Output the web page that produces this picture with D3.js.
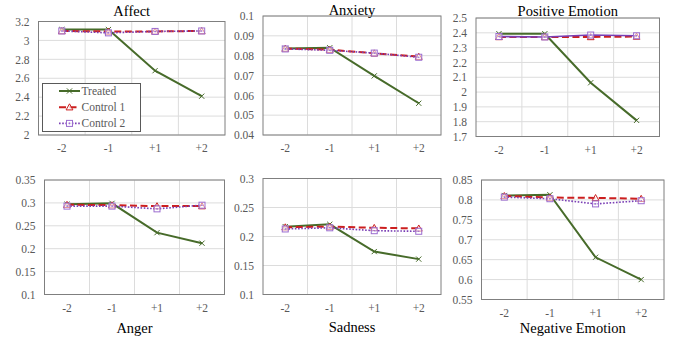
<!DOCTYPE html>
<html>
<head>
<meta charset="utf-8">
<script src="https://cdn.jsdelivr.net/npm/d3@7"></script>
<style>
  html, body { margin: 0; padding: 0; background: #fff; }
  svg { display: block; }
  svg text { font-family: "Liberation Serif", "Times New Roman", serif; }
</style>
</head>
<body>
<div id="chart"></div>
<script>
// categories on every x axis
const categories = ["-2", "-1", "+1", "+2"];
const measures = ["Affect", "Anxiety", "Positive Emotion", "Anger", "Sadness", "Negative Emotion"];
const seriesNames = ["Treated", "Control 1", "Control 2"];

// one row per measure, values for -2, -1, +1, +2
const treated = [
    [3.115, 3.115, 2.68, 2.41],
    [0.0836, 0.0840, 0.0698, 0.0560],
    [2.394, 2.394, 2.063, 1.809],
    [0.297, 0.299, 0.235, 0.212],
    [0.217, 0.221, 0.174, 0.161],
    [0.811, 0.813, 0.656, 0.600]
];
const control1 = [
    [3.100, 3.095, 3.095, 3.100],
    [0.0836, 0.0830, 0.0812, 0.0795],
    [2.372, 2.372, 2.372, 2.375],
    [0.296, 0.295, 0.293, 0.293],
    [0.216, 0.217, 0.215, 0.214],
    [0.810, 0.806, 0.805, 0.803]
];
const control2 = [
    [3.100, 3.080, 3.095, 3.100],
    [0.0834, 0.0827, 0.0813, 0.0792],
    [2.375, 2.372, 2.385, 2.380],
    [0.293, 0.293, 0.287, 0.295],
    [0.213, 0.215, 0.210, 0.209],
    [0.807, 0.803, 0.790, 0.798]
];
const yDomains = [[2, 3.2], [0.04, 0.1], [1.7, 2.5], [0.1, 0.35], [0.1, 0.3], [0.55, 0.85]];
const yTickSteps = [0.2, 0.01, 0.1, 0.05, 0.05, 0.05];

// plot frames on the page
const frames = [
    {left: 38.5, right: 225, top: 21.5, bottom: 135, titleY: 15.5},
    {left: 263, right: 441, top: 16, bottom: 135, titleY: 15},
    {left: 476, right: 659.5, top: 18, bottom: 136.5, titleY: 15.5},
    {left: 44.5, right: 224.5, top: 180, bottom: 294.5, titleY: 333},
    {left: 263, right: 441, top: 178.5, bottom: 294.5, titleY: 332},
    {left: 481.5, right: 664, top: 180, bottom: 299.5, titleY: 333}
];

const colors = ["#476b2a", "#cc1f1f", "#7a3fb5"];
const dashes = [null, "7,3.5", "1.6,1.6"];
const widths = [2, 2, 1.6];
const serif = "Liberation Serif, Times New Roman, serif";

const width = 677, height = 343;
const svg = d3.select("#chart").append("svg")
    .attr("width", width)
    .attr("height", height);

const fmt = d3.format("~g");

const drawMarker = function (g, kind, x, y, color) {
    if (kind === 0) {
        const s = 2.6;
        g.append("path")
            .attr("d", `M${x - s},${y - s}L${x + s},${y + s}M${x - s},${y + s}L${x + s},${y - s}`)
            .attr("stroke", color).attr("stroke-width", 1).attr("fill", "none");
    } else if (kind === 1) {
        const s = 3.4;
        g.append("path")
            .attr("d", `M${x},${y - s}L${x + s},${y + s * 0.8}L${x - s},${y + s * 0.8}Z`)
            .attr("stroke", color).attr("stroke-width", 1).attr("fill", "#fff").attr("fill-opacity", 0.6);
    } else {
        const s = 3;
        g.append("rect")
            .attr("x", x - s).attr("y", y - s).attr("width", s * 2).attr("height", s * 2)
            .attr("stroke", "#9b6ccf").attr("stroke-width", 1).attr("fill", "#fff").attr("fill-opacity", 0.5);
        g.append("circle").attr("cx", x).attr("cy", y).attr("r", 0.8).attr("fill", "#9b6ccf");
    }
};

measures.forEach((name, i) => {
    const f = frames[i];
    const g = svg.append("g");

    const x = d3.scaleBand().domain(categories).range([f.left, f.right]).padding(0);
    const y = d3.scaleLinear().domain(yDomains[i]).range([f.bottom, f.top]);
    const step = yTickSteps[i];
    const ticks = d3.range(yDomains[i][0], yDomains[i][1] + step / 2, step).map(v => +v.toFixed(4));

    // gridlines
    g.selectAll(".hg").data(ticks).join("line")
        .attr("x1", f.left).attr("x2", f.right)
        .attr("y1", d => y(d)).attr("y2", d => y(d))
        .attr("stroke", "#dcdcdc").attr("stroke-width", 1);
    g.selectAll(".vg").data(categories.slice(1)).join("line")
        .attr("x1", d => x(d)).attr("x2", d => x(d))
        .attr("y1", f.top).attr("y2", f.bottom)
        .attr("stroke", "#dcdcdc").attr("stroke-width", 1);

    g.append("rect")
        .attr("x", f.left).attr("y", f.top)
        .attr("width", f.right - f.left).attr("height", f.bottom - f.top)
        .attr("fill", "none").attr("stroke", "#7f7f7f").attr("stroke-width", 1);

    // y axis
    const yAxis = d3.axisLeft(y).tickValues(ticks).tickSize(0).tickPadding(9).tickFormat(fmt);
    const ya = g.append("g").attr("transform", `translate(${f.left},0)`).call(yAxis)
        .attr("font-family", serif).attr("font-size", 11.5);
    ya.select(".domain").remove();
    ya.selectAll("text").attr("fill", "#595959");

    // x axis
    const xAxis = d3.axisBottom(x).tickSize(0).tickPadding(9);
    const xa = g.append("g").attr("transform", `translate(0,${f.bottom})`).call(xAxis)
        .attr("font-family", serif).attr("font-size", 11.5);
    xa.select(".domain").remove();
    xa.selectAll("text").attr("fill", "#595959");

    // title
    g.append("text")
        .attr("x", (f.left + f.right) / 2)
        .attr("y", f.titleY)
        .attr("text-anchor", "middle")
        .attr("font-family", serif)
        .attr("font-size", 14.5)
        .attr("fill", "#000")
        .text(name);

    const series = [treated[i], control1[i], control2[i]];
    const line = d3.line()
        .x((d, k) => x(categories[k]) + x.bandwidth() / 2)
        .y(d => y(d));

    series.forEach((vals, s) => {
        const dash = (s === 2 && i === 2) ? null : dashes[s];
        g.append("path")
            .attr("d", line(vals))
            .attr("fill", "none")
            .attr("stroke", colors[s])
            .attr("stroke-width", widths[s])
            .attr("stroke-dasharray", dash);
        vals.forEach((v, k) => {
            drawMarker(g, s, x(categories[k]) + x.bandwidth() / 2, y(v), colors[s]);
        });
    });
});

// legend inside Affect panel
const lg = svg.append("g");
lg.append("rect")
    .attr("x", 42.5).attr("y", 83.5).attr("width", 98).attr("height", 48)
    .attr("fill", "#fff").attr("stroke", "#595959").attr("stroke-width", 1);
seriesNames.forEach((n, s) => {
    const yy = 91 + s * 16.2;
    lg.append("line")
        .attr("x1", 59).attr("x2", 80).attr("y1", yy).attr("y2", yy)
        .attr("stroke", colors[s]).attr("stroke-width", widths[s])
        .attr("stroke-dasharray", dashes[s]);
    drawMarker(lg, s, 69.5, yy, colors[s]);
    lg.append("text")
        .attr("x", 81.5).attr("y", yy + 4)
        .attr("font-family", serif)
        .attr("font-size", 11.5)
        .attr("fill", "#595959")
        .text(n);
});
</script>
</body>
</html>
